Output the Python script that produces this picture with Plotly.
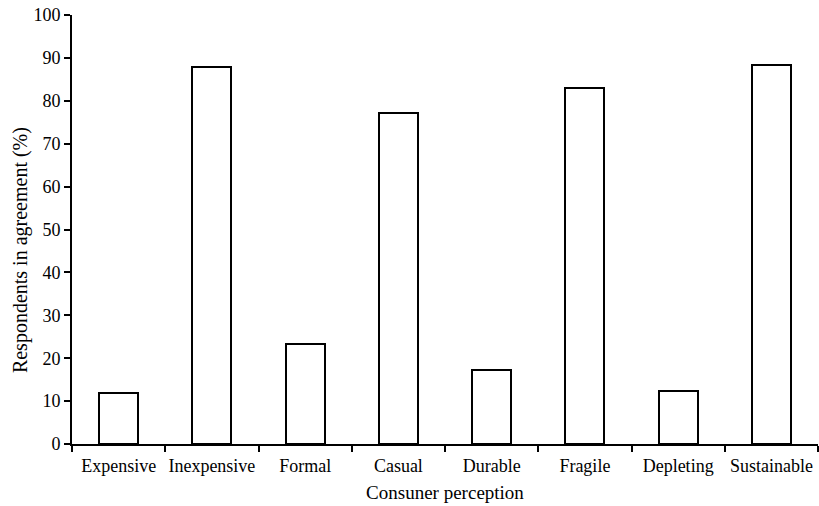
import plotly.graph_objects as go

categories = ["Expensive", "Inexpensive", "Formal", "Casual", "Durable", "Fragile", "Depleting", "Sustainable"]
agreement = [12.0, 87.8, 23.2, 77.1, 17.2, 83.1, 12.3, 88.3]
y_ticks = [0, 10, 20, 30, 40, 50, 60, 70, 80, 90, 100]
y_title = "Respondents in agreement (%)"
x_title = "Consuner perception"

font_family = "Liberation Serif, Times New Roman, serif"

fig = go.Figure(go.Bar(
    x=categories,
    y=agreement,
    width=0.42,
    marker=dict(color="white", line=dict(color="black", width=2)),
))

fig.update_layout(
    width=819, height=506,
    margin=dict(l=72, r=1, t=15, b=62),
    plot_bgcolor="white", paper_bgcolor="white",
    font=dict(family=font_family, size=18, color="black"),
    showlegend=False,
    bargap=0,
)
fig.update_xaxes(
    automargin=False,
    tickangle=0,
    showline=True, linecolor="black", linewidth=2,
    ticks="outside", tickson="boundaries", ticklen=6, tickwidth=2, tickcolor="black",
    ticklabelstandoff=4,
    showgrid=False, zeroline=False,
    title=dict(text=x_title, font=dict(size=19), standoff=11),
    tickfont=dict(size=18),
)
fig.update_yaxes(
    automargin=False,
    range=[0, 100], tickvals=y_ticks,
    showline=True, linecolor="black", linewidth=2,
    ticks="outside", ticklen=6, tickwidth=2, tickcolor="black",
    showgrid=False, zeroline=False,
    tickfont=dict(size=18),
)
fig.add_annotation(
    text=y_title, textangle=-90, showarrow=False,
    xref="paper", yref="paper", x=-0.0697, y=0.452,
    xanchor="center", yanchor="middle",
    font=dict(size=20, family=font_family, color="black"),
)

fig.write_html("out.html", config={"displayModeBar": False},
               post_script="document.body.style.margin='0';")
